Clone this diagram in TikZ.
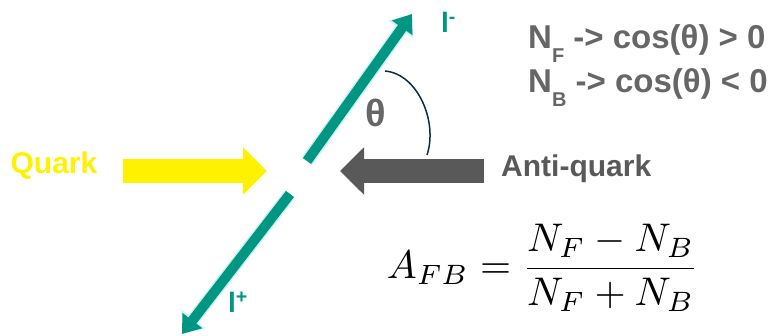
\documentclass[tikz,border=0pt]{standalone}
\usepackage[no-math]{fontspec}
\usepackage{amsmath}
\usetikzlibrary{arrows.meta}
\newfontfamily\sansbold{Liberation Sans}[BoldFont={Liberation Sans Bold}]
\definecolor{quarkyellow}{HTML}{FFF200}
\definecolor{antigray}{HTML}{595959}
\definecolor{textgray}{HTML}{666666}
\definecolor{leptonteal}{HTML}{009682}
\definecolor{leptonglow}{HTML}{C8F2F6}
\definecolor{arcnavy}{HTML}{0D2B45}
% dropped subscript for the counting lines
\newcommand{\lowsub}[1]{\raisebox{-14pt}{\fontsize{20}{20}\selectfont #1}}

\begin{document}
\begin{tikzpicture}[x=1pt, y=1pt,
    beam/.style={line width=24pt, -{Triangle[length=24pt, width=46pt]}},
    lepton/.style={line width=10pt, leptonteal, -{Triangle[length=17pt, width=24pt]}},
    glow/.style={line width=13pt, leptonglow, -{Triangle[length=19pt, width=29pt]}},
    sanslabel/.style={inner sep=0pt, font=\sansbold\bfseries\fontsize{30}{36}\selectfont}]
    \useasboundingbox (0,0) rectangle (773,336);
    % Beams
    \coordinate (qstart) at (123,165); \coordinate (qtip) at (267,165);
    \coordinate (aqstart) at (484,165); \coordinate (aqtip) at (340,165);
    \draw[beam, quarkyellow] (qstart) -- (qtip);
    \draw[beam, antigray] (aqstart) -- (aqtip);
    \node[sanslabel, quarkyellow] (quark) at (54,170) {Quark};
    \node[sanslabel, antigray, anchor=west] (antiquark) at (501,167) {Anti-quark};
    % Leptons
    \coordinate (lmstart) at (307,175); \coordinate (lmtip) at (412,322);
    \coordinate (lpstart) at (290,142); \coordinate (lptip) at (182,2);
    \draw[glow] (lmstart) -- (lmtip); \draw[lepton] (lmstart) -- (lmtip);
    \draw[glow] (lpstart) -- (lptip); \draw[lepton] (lpstart) -- (lptip);
    \node[sanslabel, leptonteal, anchor=base west, font=\sansbold\bfseries\fontsize{28}{34}\selectfont] (lminus) at (441,303) {l\textsuperscript{-}};
    \node[sanslabel, leptonteal, anchor=base west, font=\sansbold\bfseries\fontsize{28}{34}\selectfont] (lplus) at (228,23) {l\textsuperscript{+}};
    % Angle
    \coordinate (arcA) at (385,265); \coordinate (arcB) at (427,181);
    \draw[arcnavy, line width=1.5pt] (arcA) .. controls (418,262) and (438,214) .. (arcB);
    \node[sanslabel, textgray, font=\sansbold\bfseries\fontsize{38}{44}\selectfont] (theta) at (376,223) {θ};
    % Counting
    \node[sanslabel, textgray, anchor=base west, font=\sansbold\bfseries\fontsize{33}{36}\selectfont] (nf) at (528,287) {N\lowsub{F} -> cos(θ) > 0};
    \node[sanslabel, textgray, anchor=base west, font=\sansbold\bfseries\fontsize{33}{36}\selectfont] (nb) at (528,243) {N\lowsub{B} -> cos(θ) < 0};
    \node[scale=4.0, inner sep=0pt] (afb) at (543,68) {$\displaystyle A_{FB}=\frac{N_F-N_B}{N_F+N_B}$};
\end{tikzpicture}
\end{document}
